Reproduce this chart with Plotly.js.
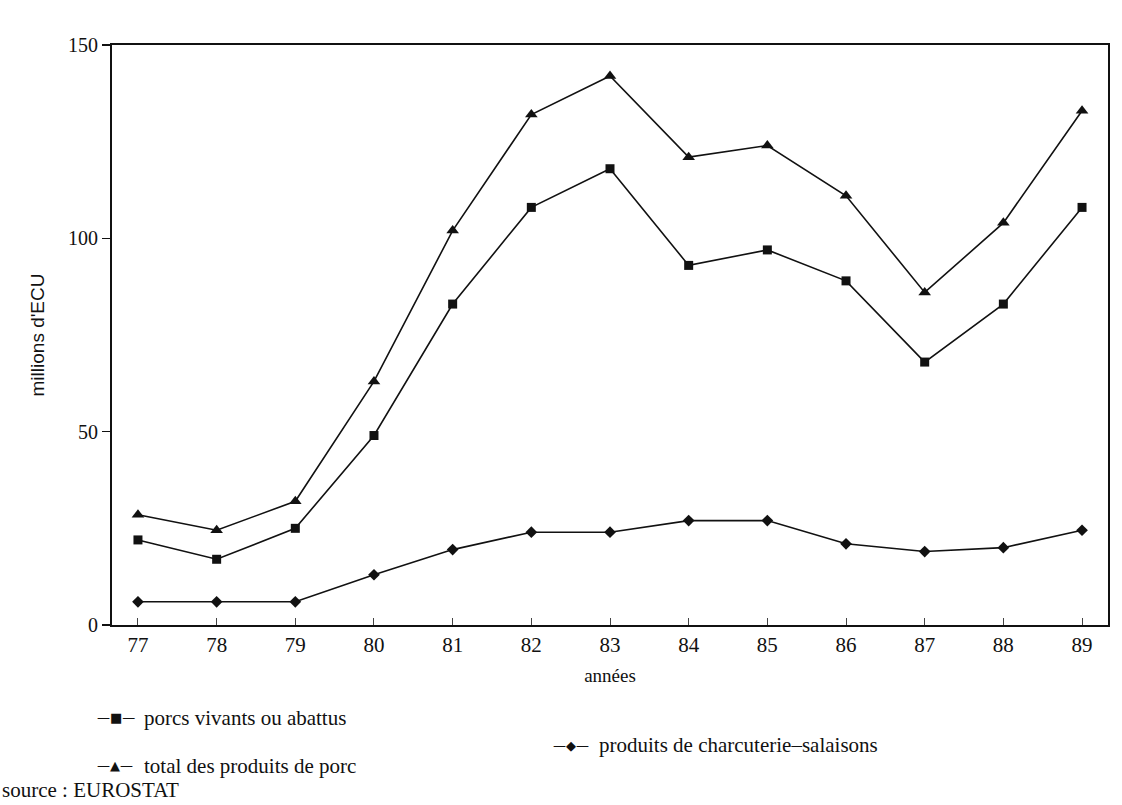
<!DOCTYPE html>
<html>
<head>
<meta charset="utf-8">
<script src="https://cdn.plot.ly/plotly-3.0.1.min.js"></script>
<style>html,body{margin:0;padding:0;background:#fff;}#chart{width:1122px;height:805px;}</style>
</head>
<body>
<div id="chart"></div>
<script>
const years = [77, 78, 79, 80, 81, 82, 83, 84, 85, 86, 87, 88, 89];
const yearLabels = ["77", "78", "79", "80", "81", "82", "83", "84", "85", "86", "87", "88", "89"];
const porcsVivants = [22, 17, 25, 49, 83, 108, 118, 93, 97, 89, 68, 83, 108];
const totalPorc = [28.5, 24.5, 32, 63, 102, 132, 142, 121, 124, 111, 86, 104, 133];
const charcuterie = [6, 6, 6, 13, 19.5, 24, 24, 27, 27, 21, 19, 20, 24.5];
const yTicks = [0, 50, 100, 150];
const seriesNames = ["porcs vivants ou abattus", "total des produits de porc", "produits de charcuterie\u2013salaisons"];

const FONT = "Liberation Serif";
const line = {color: "#111", width: 1.6};

const traces = [
  {x: years, y: porcsVivants, mode: "lines+markers", name: seriesNames[0],
   line: line, marker: {symbol: "square", size: 9, color: "#111"}},
  {x: years, y: totalPorc, mode: "lines+markers", name: seriesNames[1],
   line: line, marker: {symbol: "triangle-up", size: 11, color: "#111"}},
  {x: years, y: charcuterie, mode: "lines+markers", name: seriesNames[2],
   line: line, marker: {symbol: "diamond", size: 9, color: "#111"}}
];

const legFont = {family: FONT, size: 21, color: "#111"};
const symFont = {family: "DejaVu Sans", size: 13, color: "#111"};
function sym(x, y, t) {
  return {xref: "paper", yref: "paper", x: x, y: y, xanchor: "left", yanchor: "middle", showarrow: false, text: t, font: symFont};
}
function lab(x, y, t) {
  return {xref: "paper", yref: "paper", x: x, y: y, xanchor: "left", yanchor: "middle", showarrow: false, text: t, font: legFont};
}
const layout = {
  width: 1122, height: 805,
  paper_bgcolor: "#fff", plot_bgcolor: "#fff",
  margin: {l: 112, r: 14, t: 45, b: 180},
  showlegend: false,
  font: {family: FONT, color: "#111", size: 20},
  xaxis: {
    range: [76.67, 89.33], tickvals: years, ticktext: yearLabels,
    showgrid: false, zeroline: false, showline: true, mirror: true,
    linecolor: "#111", linewidth: 2,
    ticks: "inside", ticklen: 7, tickwidth: 1, tickcolor: "#444",
    tickfont: {family: FONT, size: 21, color: "#111"},
    title: {text: "années", font: {family: FONT, size: 19, color: "#111"}, standoff: 12}
  },
  yaxis: {
    range: [0, 150], tickvals: yTicks,
    showgrid: false, zeroline: false, showline: true, mirror: true,
    linecolor: "#111", linewidth: 2,
    ticks: "outside", ticklen: 8, tickwidth: 1.2, tickcolor: "#111",
    tickfont: {family: FONT, size: 20, color: "#111"},
    title: {text: "millions d'ECU", font: {family: "Liberation Sans", size: 19, color: "#111"}, standoff: 18}
  },
  annotations: [
    sym(-0.017, -0.16, "\u2014\u25A0\u2014"),
    lab(0.03, -0.16, seriesNames[0]),
    sym(-0.017, -0.243, "\u2014\u25B2\u2014"),
    lab(0.03, -0.243, seriesNames[1]),
    sym(0.441, -0.207, "\u2014\u25C6\u2014"),
    lab(0.487, -0.207, seriesNames[2]),
    lab(-0.112, -0.285, "source : EUROSTAT")
  ]
};

Plotly.newPlot("chart", traces, layout, {displayModeBar: false, staticPlot: true});
</script>
</body>
</html>
